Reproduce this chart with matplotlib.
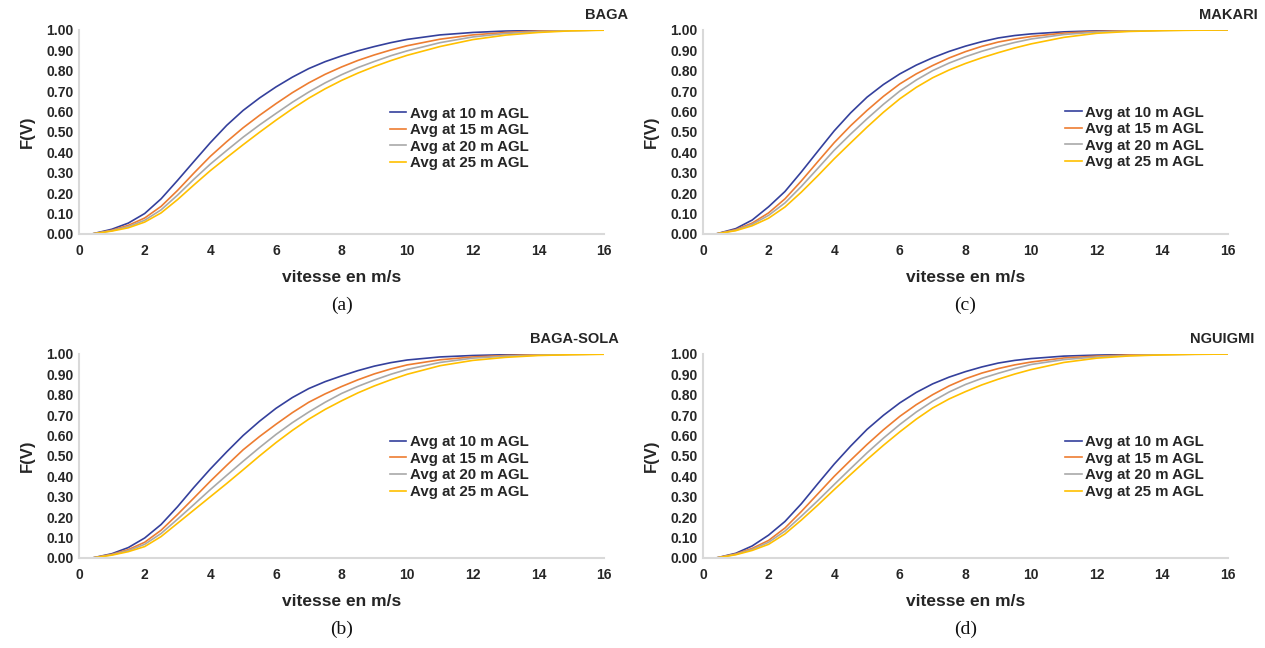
import matplotlib
matplotlib.use("Agg")
import matplotlib.pyplot as plt
from matplotlib.ticker import FormatStrFormatter, MultipleLocator

plt.rcParams["font.family"] = ["Liberation Sans", "DejaVu Sans"]

# vitesse (m/s)
vitesse = [0, 0.4, 1, 1.5, 2, 2.5, 3, 3.5, 4, 4.5, 5, 5.5, 6, 6.5, 7, 7.5, 8, 8.5, 9, 9.5,
           10, 11, 12, 13, 14, 15, 16]

labels = ["Avg at 10 m AGL", "Avg at 15 m AGL", "Avg at 20 m AGL", "Avg at 25 m AGL"]
colors = ["#34409c", "#ed7d31", "#a9a9a9", "#ffc000"]

# BAGA
baga_10 = [0, 0, 0.023, 0.053, 0.1, 0.172, 0.262, 0.355, 0.447, 0.532, 0.605, 0.666, 0.72, 0.768,
           0.81, 0.844, 0.872, 0.897, 0.918, 0.937, 0.953, 0.975, 0.987, 0.994, 0.997, 0.999, 1.0]
baga_15 = [0, 0, 0.018, 0.042, 0.078, 0.135, 0.213, 0.298, 0.38, 0.452, 0.52, 0.581, 0.638, 0.692,
           0.74, 0.782, 0.818, 0.85, 0.877, 0.901, 0.922, 0.954, 0.975, 0.987, 0.994, 0.997, 0.999]
baga_20 = [0, 0, 0.016, 0.036, 0.067, 0.118, 0.19, 0.268, 0.342, 0.409, 0.474, 0.534, 0.59, 0.645,
           0.695, 0.74, 0.78, 0.815, 0.845, 0.873, 0.897, 0.937, 0.965, 0.982, 0.991, 0.996, 0.999]
baga_25 = [0, 0, 0.014, 0.03, 0.058, 0.103, 0.168, 0.24, 0.31, 0.374, 0.437, 0.498, 0.557, 0.613,
           0.665, 0.711, 0.752, 0.788, 0.82, 0.849, 0.875, 0.918, 0.952, 0.974, 0.987, 0.995, 0.998]

# BAGA-SOLA
sola_10 = [0, 0, 0.021, 0.051, 0.098, 0.164, 0.251, 0.346, 0.436, 0.52, 0.6, 0.67, 0.733, 0.786,
           0.83, 0.864, 0.892, 0.918, 0.94, 0.957, 0.97, 0.985, 0.992, 0.996, 0.998, 0.999, 1.0]
sola_15 = [0, 0, 0.018, 0.041, 0.077, 0.136, 0.213, 0.294, 0.376, 0.454, 0.53, 0.595, 0.655, 0.712,
           0.763, 0.804, 0.84, 0.873, 0.902, 0.926, 0.946, 0.971, 0.985, 0.992, 0.996, 0.998, 0.999]
sola_20 = [0, 0, 0.016, 0.036, 0.067, 0.12, 0.19, 0.262, 0.335, 0.405, 0.474, 0.541, 0.605, 0.663,
           0.715, 0.763, 0.806, 0.841, 0.872, 0.9, 0.924, 0.958, 0.979, 0.989, 0.994, 0.997, 0.999]
sola_25 = [0, 0, 0.014, 0.031, 0.056, 0.105, 0.17, 0.235, 0.3, 0.365, 0.432, 0.5, 0.565, 0.625,
           0.68, 0.728, 0.77, 0.809, 0.843, 0.873, 0.9, 0.942, 0.968, 0.983, 0.992, 0.996, 0.998]

# MAKARI
makari_10 = [0, 0, 0.026, 0.068, 0.133, 0.208, 0.304, 0.405, 0.505, 0.593, 0.67, 0.732, 0.784, 0.827,
             0.863, 0.894, 0.92, 0.942, 0.96, 0.972, 0.98, 0.99, 0.995, 0.998, 0.999, 1.0, 1.0]
makari_15 = [0, 0, 0.021, 0.053, 0.103, 0.172, 0.26, 0.354, 0.447, 0.53, 0.605, 0.674, 0.735, 0.784,
             0.825, 0.862, 0.893, 0.919, 0.94, 0.955, 0.967, 0.984, 0.992, 0.996, 0.998, 0.999, 1.0]
makari_20 = [0, 0, 0.018, 0.047, 0.091, 0.152, 0.233, 0.321, 0.41, 0.489, 0.564, 0.635, 0.7, 0.754,
             0.8, 0.837, 0.868, 0.895, 0.918, 0.938, 0.955, 0.977, 0.989, 0.994, 0.997, 0.999, 1.0]
makari_25 = [0, 0, 0.016, 0.04, 0.077, 0.132, 0.205, 0.285, 0.368, 0.446, 0.523, 0.596, 0.662, 0.718,
             0.765, 0.803, 0.835, 0.863, 0.888, 0.911, 0.931, 0.963, 0.983, 0.992, 0.996, 0.998, 0.999]

# NGUIGMI
nguigmi_10 = [0, 0, 0.023, 0.059, 0.112, 0.179, 0.266, 0.364, 0.46, 0.548, 0.63, 0.699, 0.76, 0.811,
              0.853, 0.886, 0.913, 0.936, 0.955, 0.968, 0.977, 0.989, 0.994, 0.997, 0.999, 1.0, 1.0]
nguigmi_15 = [0, 0, 0.02, 0.047, 0.086, 0.147, 0.228, 0.314, 0.4, 0.479, 0.556, 0.628, 0.694, 0.751,
              0.8, 0.843, 0.878, 0.906, 0.928, 0.946, 0.96, 0.98, 0.989, 0.995, 0.998, 0.999, 1.0]
nguigmi_20 = [0, 0, 0.018, 0.042, 0.077, 0.132, 0.205, 0.281, 0.36, 0.438, 0.515, 0.587, 0.654, 0.715,
              0.768, 0.813, 0.85, 0.88, 0.905, 0.928, 0.948, 0.972, 0.985, 0.992, 0.996, 0.998, 0.999]
nguigmi_25 = [0, 0, 0.016, 0.037, 0.067, 0.118, 0.186, 0.259, 0.335, 0.409, 0.482, 0.552, 0.618, 0.68,
              0.735, 0.779, 0.815, 0.848, 0.876, 0.901, 0.923, 0.958, 0.979, 0.99, 0.995, 0.998, 0.999]

panels = [
    # name, curves, caption, axes rect, legend anchor, title x
    ("BAGA", [baga_10, baga_15, baga_20, baga_25], "(a)", [0.0625, 0.639, 0.415, 0.315], (0.592, 0.468), 1.046),
    ("MAKARI", [makari_10, makari_15, makari_20, makari_25], "(c)", [0.5557, 0.639, 0.415, 0.315], (0.69, 0.473), 1.057),
    ("BAGA-SOLA", [sola_10, sola_15, sola_20, sola_25], "(b)", [0.0625, 0.1389, 0.415, 0.315], (0.592, 0.446), 1.029),
    ("NGUIGMI", [nguigmi_10, nguigmi_15, nguigmi_20, nguigmi_25], "(d)", [0.5557, 0.1389, 0.415, 0.315], (0.69, 0.446), 1.05),
]

fig = plt.figure(figsize=(12.65, 6.48), dpi=100)
txt = "#262626"

for name, curves, caption, rect, leg_xy, title_x in panels:
    ax = fig.add_axes(rect)
    for vals, lab, col in zip(curves, labels, colors):
        ax.plot(vitesse, vals, color=col, lw=1.2, label=lab)
    ax.set_xlim(0, 16)
    ax.set_ylim(0, 1.0)
    ax.xaxis.set_major_locator(MultipleLocator(2))
    ax.yaxis.set_major_locator(MultipleLocator(0.1))
    ax.yaxis.set_major_formatter(FormatStrFormatter("%.2f"))
    for s in ["top", "right"]:
        ax.spines[s].set_visible(False)
    for s in ["left", "bottom"]:
        ax.spines[s].set_color("#d9d9d9")
        ax.spines[s].set_linewidth(1.5)
    ax.tick_params(length=0, labelsize=10, colors=txt)
    ax.tick_params(axis="x", pad=7)
    ax.tick_params(axis="y", pad=4)
    for t in ax.get_xticklabels() + ax.get_yticklabels():
        t.set_fontweight("bold")
    ax.set_xlabel("vitesse en m/s", fontsize=12.5, fontweight="bold", color=txt, labelpad=9)
    ax.set_ylabel("F(V)", fontsize=12, fontweight="bold", color=txt, labelpad=8)
    ax.text(title_x, 1.074, name, transform=ax.transAxes, ha="right", va="center",
            fontsize=10.5, fontweight="bold", color=txt)
    leg = ax.legend(loc="center left", bbox_to_anchor=leg_xy, frameon=False,
                    prop={"size": 10.8, "weight": "bold"}, handlelength=1.1,
                    handletextpad=0.25, labelspacing=0.17, borderpad=0, borderaxespad=0)
    for t in leg.get_texts():
        t.set_color(txt)
    ax.text(0.5, -0.35, caption, transform=ax.transAxes, ha="center", va="center",
            fontsize=14, family="Liberation Serif", color="#111111")

fig.savefig("out.png", dpi=100)
